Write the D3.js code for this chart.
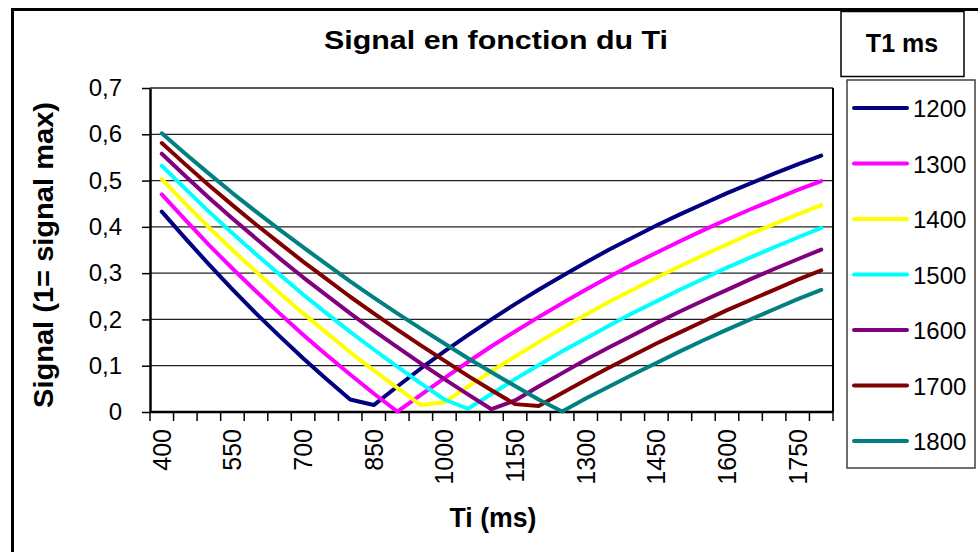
<!DOCTYPE html>
<html>
<head>
<meta charset="utf-8">
<script src="https://cdn.jsdelivr.net/npm/d3@7/dist/d3.min.js"></script>
<style>
  html, body { margin: 0; padding: 0; background: #fff; }
  svg { display: block; }
  text { font-family: "Liberation Sans", Arial, sans-serif; fill: #000; }
</style>
</head>
<body>
<svg id="chart" width="978" height="552"></svg>
<script>
// ---- Data ----
const tiValues = [400,450,500,550,600,650,700,750,800,850,900,950,1000,1050,1100,1150,1200,1250,1300,1350,1400,1450,1500,1550,1600,1650,1700,1750,1800];
const xTickLabels = [400,550,700,850,1000,1150,1300,1450,1600,1750];
const yTicks = [0,0.1,0.2,0.3,0.4,0.5,0.6,0.7];
const seriesNames = ["1200","1300","1400","1500","1600","1700","1800"];
const seriesColors = ["#000080","#FF00FF","#FFFF00","#00FFFF","#800080","#800000","#008080"];

const s1200 = [0.433,0.375,0.319,0.265,0.213,0.164,0.116,0.071,0.027,0.015,0.055,0.094,0.131,0.166,0.200,0.233,0.264,0.294,0.323,0.351,0.377,0.403,0.427,0.450,0.473,0.494,0.515,0.535,0.554];
const s1300 = [0.470,0.415,0.361,0.310,0.261,0.213,0.167,0.123,0.081,0.040,0.001,0.037,0.073,0.108,0.142,0.174,0.205,0.235,0.264,0.292,0.319,0.344,0.369,0.393,0.416,0.438,0.459,0.480,0.499];
const s1400 = [0.503,0.450,0.399,0.350,0.303,0.257,0.213,0.171,0.129,0.090,0.052,0.015,0.021,0.055,0.088,0.120,0.151,0.181,0.210,0.238,0.264,0.290,0.315,0.339,0.362,0.385,0.406,0.427,0.447];
const s1500 = [0.532,0.482,0.433,0.386,0.341,0.297,0.254,0.213,0.173,0.135,0.098,0.062,0.027,0.007,0.039,0.071,0.101,0.131,0.159,0.187,0.214,0.239,0.264,0.288,0.312,0.334,0.356,0.377,0.398];
const s1600 = [0.558,0.510,0.463,0.418,0.375,0.332,0.291,0.252,0.213,0.176,0.140,0.105,0.071,0.038,0.006,0.025,0.055,0.084,0.113,0.140,0.166,0.192,0.217,0.241,0.264,0.287,0.309,0.330,0.351];
const s1700 = [0.581,0.535,0.490,0.447,0.405,0.365,0.325,0.287,0.249,0.213,0.178,0.144,0.111,0.078,0.047,0.017,0.013,0.041,0.069,0.096,0.122,0.148,0.172,0.196,0.220,0.242,0.264,0.286,0.306];
const s1800 = [0.602,0.558,0.515,0.473,0.433,0.394,0.356,0.319,0.282,0.247,0.213,0.180,0.148,0.116,0.086,0.056,0.027,0.001,0.029,0.055,0.081,0.106,0.131,0.155,0.178,0.200,0.222,0.244,0.264];
const seriesValues = [s1200,s1300,s1400,s1500,s1600,s1700,s1800];

// ---- Layout ----
const svg = d3.select("#chart");
const plot = {left: 150, right: 833, top: 88, bottom: 412};

// outer frame
svg.append("rect").attr("x", 12.5).attr("y", 9.5).attr("width", 1000).attr("height", 700)
  .attr("fill", "none").attr("stroke", "#000").attr("stroke-width", 3);

const x = d3.scaleBand().domain(tiValues).range([plot.left, plot.right]).padding(0);
const y = d3.scaleLinear().domain([0, 0.7]).range([plot.bottom, plot.top]);
const cx = d => x(d) + x.bandwidth() / 2;

// gridlines
svg.append("g").selectAll("line").data(yTicks.slice(1)).join("line")
  .attr("x1", plot.left).attr("x2", plot.right)
  .attr("y1", d => y(d)).attr("y2", d => y(d))
  .attr("stroke", "#222").attr("stroke-width", 1.3);

// plot border (right)
svg.append("line").attr("x1", plot.right).attr("x2", plot.right)
  .attr("y1", plot.top).attr("y2", plot.bottom).attr("stroke", "#000").attr("stroke-width", 2);

// Y axis
const fmt = d => d === 0 ? "0" : d3.format(".1f")(d).replace(".", ",");
const yAxis = svg.append("g").attr("transform", `translate(${plot.left},0)`)
  .call(d3.axisLeft(y).tickValues(yTicks).tickFormat(fmt).tickSize(8).tickSizeOuter(0).tickPadding(20));
yAxis.select(".domain").attr("stroke", "#000").attr("stroke-width", 2.5);
yAxis.selectAll(".tick line").attr("stroke", "#000").attr("stroke-width", 1.5);
yAxis.selectAll(".tick text").attr("font-size", 24).attr("font-family", "Liberation Sans, Arial, sans-serif").attr("fill", "#000");

// X axis line
svg.append("line").attr("x1", plot.left).attr("x2", plot.right)
  .attr("y1", plot.bottom).attr("y2", plot.bottom).attr("stroke", "#000").attr("stroke-width", 2.5);
// X ticks at band boundaries
const boundaries = tiValues.map(d => x(d)).concat([plot.right]);
svg.append("g").selectAll("line").data(boundaries).join("line")
  .attr("x1", d => d).attr("x2", d => d)
  .attr("y1", plot.bottom).attr("y2", plot.bottom + 9)
  .attr("stroke", "#000").attr("stroke-width", 1.5);
// X tick labels (rotated)
svg.append("g").selectAll("text").data(xTickLabels).join("text")
  .attr("transform", d => `translate(${cx(d) + 9},${429}) rotate(-90)`)
  .attr("text-anchor", "end")
  .attr("font-size", 25)
  .text(d => d);

// lines
const line = d3.line().x((d, i) => cx(tiValues[i])).y(d => y(d));
svg.append("g").selectAll("path").data(seriesValues).join("path")
  .attr("d", d => line(d))
  .attr("fill", "none")
  .attr("stroke", (d, i) => seriesColors[i])
  .attr("stroke-width", 4)
  .attr("stroke-linejoin", "round")
  .attr("stroke-linecap", "round");

// title
svg.append("text").attr("x", 496).attr("y", 49).attr("text-anchor", "middle")
  .attr("font-size", 25).attr("font-weight", "bold")
  .attr("textLength", 344).attr("lengthAdjust", "spacingAndGlyphs")
  .text("Signal en fonction du Ti");

// axis titles
svg.append("text").attr("transform", "translate(53,255) rotate(-90)").attr("text-anchor", "middle")
  .attr("font-size", 27).attr("font-weight", "bold")
  .attr("textLength", 306).attr("lengthAdjust", "spacingAndGlyphs")
  .text("Signal (1= signal max)");
svg.append("text").attr("x", 493).attr("y", 527).attr("text-anchor", "middle")
  .attr("font-size", 27).attr("font-weight", "bold")
  .attr("textLength", 87).attr("lengthAdjust", "spacingAndGlyphs")
  .text("Ti (ms)");

// legend title box
svg.append("rect").attr("x", 841).attr("y", 11.5).attr("width", 123).attr("height", 65)
  .attr("fill", "#fff").attr("stroke", "#000").attr("stroke-width", 1.5);
svg.append("text").attr("x", 902).attr("y", 52).attr("text-anchor", "middle")
  .attr("font-size", 25).attr("font-weight", "bold")
  .text("T1 ms");

// legend
svg.append("rect").attr("x", 847).attr("y", 80).attr("width", 128).attr("height", 388)
  .attr("fill", "#fff").attr("stroke", "#404040").attr("stroke-width", 1.5);
const legY = d3.scalePoint().domain(seriesNames).range([108, 441]);
const leg = svg.append("g").selectAll("g").data(seriesNames).join("g")
  .attr("transform", d => `translate(0,${legY(d)})`);
leg.append("line").attr("x1", 854).attr("x2", 907).attr("y1", 0).attr("y2", 0)
  .attr("stroke", (d, i) => seriesColors[i]).attr("stroke-width", 4).attr("stroke-linecap", "round");
leg.append("text").attr("x", 913).attr("y", 9).attr("font-size", 24).text(d => d);
</script>
</body>
</html>
